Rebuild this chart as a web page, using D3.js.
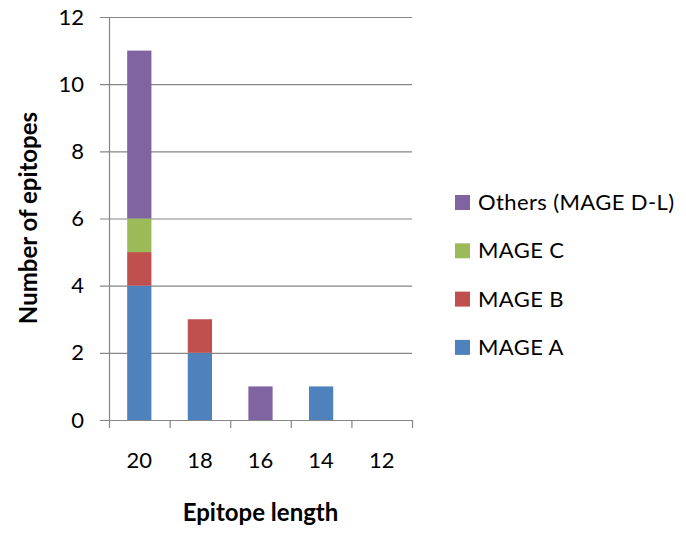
<!DOCTYPE html>
<html>
<head>
<meta charset="utf-8">
<script src="https://cdn.jsdelivr.net/npm/d3@7"></script>
<style>
  body { margin: 0; background: #fff; }
  text { font-family: Lato, "Open Sans", sans-serif; }
</style>
</head>
<body>
<svg></svg>
<script>
const categories = ["20", "18", "16", "14", "12"]
const seriesNames = ["MAGE A", "MAGE B", "MAGE C", "Others (MAGE D-L)"]
const mageA = [4, 2, 0, 1, 0]
const mageB = [1, 1, 0, 0, 0]
const mageC = [1, 0, 0, 0, 0]
const others = [5, 0, 1, 0, 0]
const yTicks = [0, 2, 4, 6, 8, 10, 12]
const colors = ["#4F81BD", "#C0504D", "#9BBB59", "#8064A2"]

let width = 686
let height = 535
let plotLeft = 109, plotRight = 412, plotTop = 17, plotBottom = 420

let svg = d3.select("svg").attr("width", width).attr("height", height)

let rows = categories.map((c, i) => ({
    cat: c,
    "MAGE A": mageA[i],
    "MAGE B": mageB[i],
    "MAGE C": mageC[i],
    "Others (MAGE D-L)": others[i]
}))

let stacked = d3.stack().keys(seriesNames)(rows)

let xScale = d3.scaleBand().domain(categories).range([plotLeft, plotRight]).paddingInner(0).paddingOuter(0)
let yScale = d3.scaleLinear().domain([0, 12]).range([plotBottom, plotTop])

// gridlines
svg.append("g")
    .selectAll("line")
    .data(yTicks)
    .enter()
    .append("line")
    .attr("x1", plotLeft - 9)
    .attr("x2", plotRight)
    .attr("y1", d => yScale(d) + 0.5)
    .attr("y2", d => yScale(d) + 0.5)
    .attr("stroke", "#868686")
    .attr("stroke-width", 1.2)

// bars
let barW = xScale.bandwidth() * 0.4
svg.append("g")
    .selectAll("g")
    .data(stacked)
    .enter()
    .append("g")
    .attr("fill", (d, i) => colors[i])
    .selectAll("rect")
    .data(d => d.filter(p => p[1] - p[0] > 0))
    .enter()
    .append("rect")
    .attr("x", d => xScale(d.data.cat) + (xScale.bandwidth() - barW) / 2)
    .attr("width", barW)
    .attr("y", d => yScale(d[1]))
    .attr("height", d => yScale(d[0]) - yScale(d[1]))

// y axis
let yAxis = d3.axisLeft(yScale).tickValues(yTicks).tickSize(0).tickPadding(25)
let yg = svg.append("g").attr("transform", "translate(" + plotLeft + ",0)").call(yAxis)
yg.select(".domain").attr("stroke", "#868686").attr("stroke-width", 1.2)
yg.selectAll("text").attr("font-size", 22).attr("fill", "#000").style("font-family", "Lato, sans-serif")

// x axis
let xAxis = d3.axisBottom(xScale).tickSize(0).tickPadding(32)
let xg = svg.append("g").attr("transform", "translate(0," + plotBottom + ")").call(xAxis)
xg.select(".domain").remove()
xg.selectAll("text").attr("font-size", 22).attr("fill", "#000").style("font-family", "Lato, sans-serif")

// x boundary ticks
let bounds = categories.map(c => xScale(c)).concat([plotRight])
svg.append("g")
    .selectAll("line")
    .data(bounds)
    .enter()
    .append("line")
    .attr("x1", d => d + 0.5)
    .attr("x2", d => d + 0.5)
    .attr("y1", plotBottom)
    .attr("y2", plotBottom + 8)
    .attr("stroke", "#868686")
    .attr("stroke-width", 1.2)

// axis titles
svg.append("text")
    .attr("x", (plotLeft + plotRight) / 2)
    .attr("y", 521)
    .attr("text-anchor", "middle")
    .attr("font-size", 24)
    .attr("font-weight", "bold")
    .text("Epitope length")

svg.append("text")
    .attr("transform", "translate(37,218) rotate(-90)")
    .attr("text-anchor", "middle")
    .attr("font-size", 24)
    .attr("font-weight", "bold")
    .text("Number of epitopes")

// legend
let legendItems = seriesNames.map((n, i) => ({ name: n, color: colors[i] })).reverse()
let lg = svg.append("g")
    .selectAll("g")
    .data(legendItems)
    .enter()
    .append("g")
    .attr("transform", (d, i) => "translate(455," + (202 + i * 48.3) + ")")
lg.append("rect")
    .attr("x", 0)
    .attr("y", -7)
    .attr("width", 15)
    .attr("height", 15)
    .attr("fill", d => d.color)
lg.append("text")
    .attr("x", 23)
    .attr("y", 8)
    .attr("font-size", 22)
    .attr("letter-spacing", 0.4)
    .text(d => d.name)
</script>
</body>
</html>
